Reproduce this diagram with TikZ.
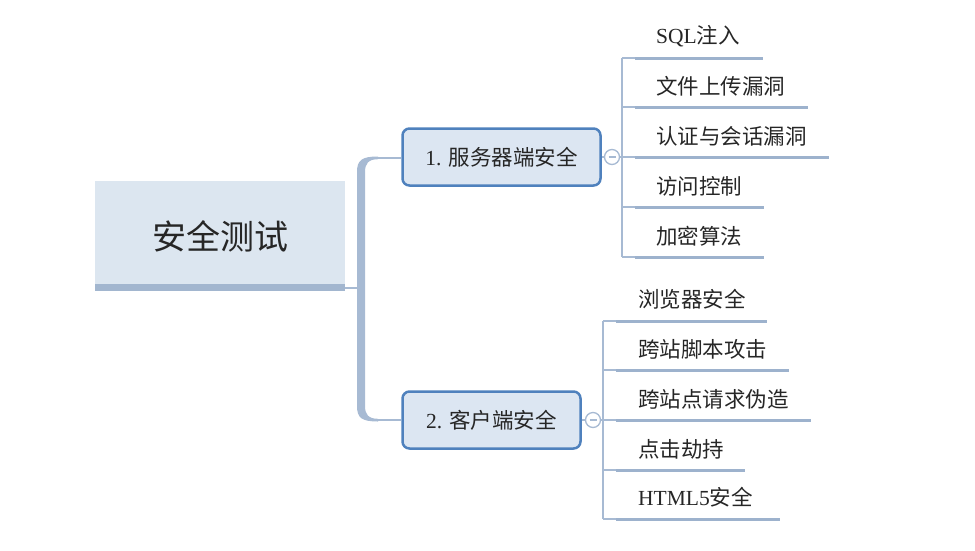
\documentclass[tikz,border=0pt]{standalone}
\usepackage{fontspec}
\setmainfont{Liberation Serif}
\newfontfamily\cjk{Noto Sans CJK SC}
\definecolor{rootfill}{HTML}{DCE6F0}
\definecolor{rootbar}{HTML}{A2B6CF}
\definecolor{brfill}{HTML}{DCE6F2}
\definecolor{brline}{HTML}{4F81BD}
\definecolor{conn}{HTML}{A7BAD3}
\definecolor{leafline}{HTML}{9DB2CD}
\definecolor{txt}{HTML}{262626}
\begin{document}
\begin{tikzpicture}[x=1pt,y=-1pt,
  rootbox/.style={fill=rootfill, minimum width=250pt, minimum height=103pt, inner sep=0pt},
  roottext/.style={inner sep=0pt, text=txt, font=\fontsize{34}{40}\selectfont\cjk},
  branch/.style={draw=brline, line width=2.5pt, fill=brfill, rounded corners=7pt, minimum height=57pt, inner sep=0pt, text=txt, font=\fontsize{21.5}{26}\selectfont},
  leaf/.style={anchor=west, inner sep=0pt, text=txt, font=\fontsize{21.5}{26}\selectfont},
  thinline/.style={draw=conn, line width=1.5pt},
  leafline/.style={draw=leafline, line width=3pt},
  fold/.style={circle, draw=conn, fill=white, line width=1.3pt, minimum size=15pt, inner sep=0pt}]
\useasboundingbox (0,0) rectangle (975,550);

% root
\node[rootbox] (root) at (220,232.5) {};
\node[roottext] (roott) at (220,236) {安全测试};
\fill[rootbar] (root.south west) rectangle ++(250,7);
\coordinate (rj) at (345,288);
\coordinate (tj) at (359,288);
\draw[thinline] (rj) -- (tj);

% trunk
\fill[conn] (378,156.5) .. controls (362,156.5) and (357,160) .. (357,172) -- (357,406)
  .. controls (357,418) and (362,421.5) .. (378,421.5) -- (378,418.8)
  .. controls (368,418.8) and (365,414) .. (365,406) -- (365,172)
  .. controls (365,164) and (368,159.2) .. (378,159.2) -- cycle;

% branches
\node[branch, minimum width=198pt] (b1) at (501.5,157) {1. {\cjk 服务器端安全}};
\node[branch, minimum width=178pt] (b2) at (491.5,420) {2. {\cjk 客户端安全}};
\coordinate (t1) at (375,157.8);
\coordinate (t2) at (375,420.2);
\draw[thinline] (t1) -- (t1 -| b1.west);
\draw[thinline] (t2) -- (t2 -| b2.west);

% fold markers
\node[fold] (f1) at (612,157) {};
\node[fold] (f2) at (593,420) {};
\draw[conn, line width=1.3pt] ([xshift=-3.5pt]f1.center) -- ([xshift=3.5pt]f1.center);
\draw[conn, line width=1.3pt] ([xshift=-3.5pt]f2.center) -- ([xshift=3.5pt]f2.center);
\draw[thinline] (b1.east) -- (f1.west);
\draw[thinline] (b2.east) -- (f2.west);

% branch 1 leaves
\coordinate (v1a) at (622,58);
\coordinate (v1b) at (622,257);
\draw[thinline] (v1a) -- (v1b);
\draw[thinline] (f1.east) -- (622,157);
\foreach \y/\e [count=\i] in {58/763,107/808,157/829,207/764,257/764}{
  \coordinate (s1\i) at (622,\y);
  \coordinate (a1\i) at (635,\y);
  \coordinate (e1\i) at (\e,\y);
  \draw[thinline] (s1\i) -- (a1\i);
  \draw[leafline] (a1\i) -- (e1\i);
}
\node[leaf] (l11) at (656,36) {SQL{\cjk 注入}};
\node[leaf] (l12) at (656,86) {\cjk 文件上传漏洞};
\node[leaf] (l13) at (656,136) {\cjk 认证与会话漏洞};
\node[leaf] (l14) at (656,186) {\cjk 访问控制};
\node[leaf] (l15) at (656,236) {\cjk 加密算法};

% branch 2 leaves
\coordinate (v2a) at (603,321);
\coordinate (v2b) at (603,519);
\draw[thinline] (v2a) -- (v2b);
\draw[thinline] (f2.east) -- (603,420);
\foreach \y/\e [count=\i] in {321/767,370/789,420/811,470/745,519/780}{
  \coordinate (s2\i) at (603,\y);
  \coordinate (a2\i) at (616,\y);
  \coordinate (e2\i) at (\e,\y);
  \draw[thinline] (s2\i) -- (a2\i);
  \draw[leafline] (a2\i) -- (e2\i);
}
\node[leaf] (l21) at (638,299) {\cjk 浏览器安全};
\node[leaf] (l22) at (638,349) {\cjk 跨站脚本攻击};
\node[leaf] (l23) at (638,399) {\cjk 跨站点请求伪造};
\node[leaf] (l24) at (638,449) {\cjk 点击劫持};
\node[leaf] (l25) at (638,497) {HTML5{\cjk 安全}};
\end{tikzpicture}
\end{document}
